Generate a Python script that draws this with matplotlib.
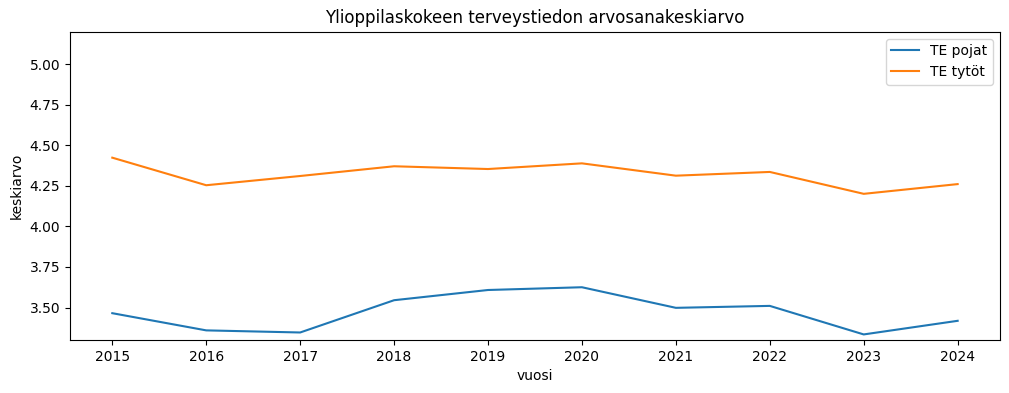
import matplotlib
matplotlib.use("Agg")
import matplotlib.pyplot as plt

years = [2015, 2016, 2017, 2018, 2019, 2020, 2021, 2022, 2023, 2024]
te_pojat = [3.465, 3.359, 3.346, 3.545, 3.608, 3.625, 3.498, 3.510, 3.334, 3.418]
te_tytot = [4.424, 4.254, 4.311, 4.371, 4.354, 4.389, 4.313, 4.336, 4.201, 4.261]

fig = plt.figure(figsize=(10.09, 3.93), dpi=100)
ax = fig.add_axes([0.0694, 0.135, 0.9216, 0.784])
ax.plot(years, te_pojat, label="TE pojat", color="#1f77b4")
ax.plot(years, te_tytot, label="TE tytöt", color="#ff7f0e")
ax.set_xticks(years)
ax.set_ylim(3.3, 5.2)
ax.set_yticks([3.5, 3.75, 4.0, 4.25, 4.5, 4.75, 5.0])
ax.set_yticklabels(["3.50", "3.75", "4.00", "4.25", "4.50", "4.75", "5.00"])
ax.set_title("Ylioppilaskokeen terveystiedon arvosanakeskiarvo")
ax.set_xlabel("vuosi")
ax.set_ylabel("keskiarvo")
ax.legend(loc="upper right")
fig.savefig("out.png", dpi=100)
